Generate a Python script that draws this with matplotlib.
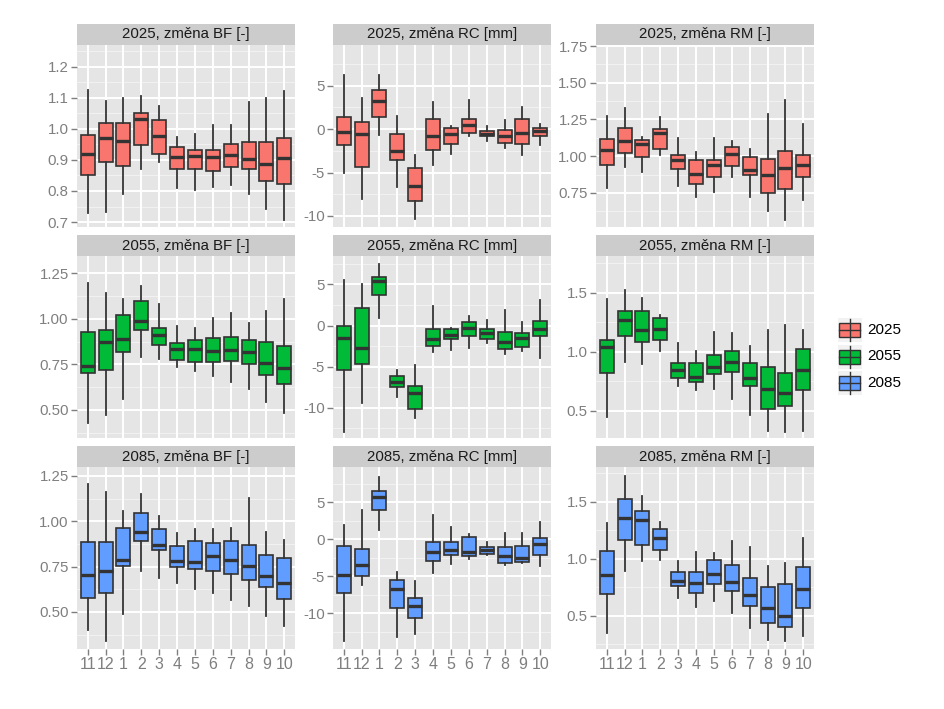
import matplotlib
matplotlib.use("Agg")
import matplotlib.pyplot as plt
from matplotlib.patches import Rectangle
import numpy as np

plt.rcParams['font.family'] = ['Liberation Sans', 'DejaVu Sans']

months = ["11", "12", "1", "2", "3", "4", "5", "6", "7", "8", "9", "10"]
years = ["2025", "2055", "2085"]
fills = {"2025": "#F8766D", "2055": "#00BA38", "2085": "#619CFF"}

# each row per month: whisker low, Q1, median, Q3, whisker high
bf_2025 = [
    [0.730, 0.850, 0.920, 0.980, 1.125], [0.732, 0.892, 0.972, 1.020, 1.090],
    [0.790, 0.880, 0.961, 1.020, 1.100], [0.870, 0.947, 1.033, 1.052, 1.105],
    [0.893, 0.920, 0.976, 1.030, 1.075], [0.808, 0.870, 0.910, 0.940, 0.974],
    [0.804, 0.872, 0.912, 0.931, 0.982], [0.813, 0.865, 0.910, 0.931, 1.012],
    [0.818, 0.877, 0.917, 0.950, 1.012], [0.789, 0.871, 0.904, 0.958, 1.088],
    [0.743, 0.832, 0.888, 0.958, 1.100], [0.708, 0.821, 0.907, 0.972, 1.121],
]
rc_2025 = [
    [-5.00, -1.85, -0.38, 1.35, 6.20], [-8.00, -4.35, -0.50, 0.85, 3.54],
    [-0.69, 1.42, 3.27, 4.50, 6.23], [-6.65, -3.50, -2.54, -0.58, 1.50],
    [-10.40, -8.27, -6.54, -4.46, -3.00], [-4.15, -2.35, -0.77, 1.12, 3.08],
    [-2.88, -1.65, -0.50, 0.15, 0.35], [-0.77, -0.42, 0.54, 1.12, 3.35],
    [-1.38, -0.80, -0.54, -0.19, 0.35], [-2.15, -1.58, -0.80, -0.04, 1.04],
    [-2.92, -1.73, -0.42, 1.15, 2.58], [-1.77, -0.81, -0.23, 0.15, 0.65],
]
rm_2025 = [
    [0.784, 0.939, 1.041, 1.120, 1.273], [0.927, 1.023, 1.102, 1.189, 1.330],
    [0.893, 0.995, 1.082, 1.109, 1.132], [1.007, 1.052, 1.155, 1.182, 1.264],
    [0.798, 0.916, 0.973, 1.007, 1.127], [0.723, 0.814, 0.882, 0.977, 1.030],
    [0.757, 0.859, 0.939, 0.977, 1.127], [0.859, 0.932, 1.018, 1.064, 1.105],
    [0.723, 0.870, 0.905, 0.995, 1.052], [0.625, 0.752, 0.875, 0.984, 1.290],
    [0.568, 0.780, 0.920, 1.034, 1.382], [0.700, 0.859, 0.939, 1.011, 1.216],
]
bf_2055 = [
    [0.427, 0.701, 0.740, 0.928, 1.200], [0.473, 0.720, 0.872, 0.937, 1.140],
    [0.560, 0.817, 0.891, 1.020, 1.112], [0.790, 0.937, 0.988, 1.099, 1.180],
    [0.780, 0.858, 0.913, 0.952, 1.084], [0.734, 0.777, 0.836, 0.869, 0.959],
    [0.712, 0.766, 0.836, 0.882, 0.950], [0.688, 0.766, 0.826, 0.896, 1.007],
    [0.651, 0.771, 0.832, 0.900, 1.035], [0.615, 0.753, 0.821, 0.885, 0.979],
    [0.546, 0.692, 0.758, 0.876, 1.042], [0.486, 0.642, 0.729, 0.849, 1.112],
]
rc_2055 = [
    [-13.00, -5.42, -1.54, -0.11, 5.60], [-9.38, -4.69, -2.76, 2.18, 5.00],
    [0.95, 3.77, 5.41, 5.94, 7.45], [-8.65, -7.46, -6.85, -6.12, -5.42],
    [-11.30, -10.20, -8.24, -7.42, -4.77], [-3.25, -2.52, -1.62, -0.39, 2.34],
    [-2.97, -1.70, -1.13, -0.39, -0.31], [-2.72, -1.29, -0.27, 0.42, 1.12],
    [-2.11, -1.62, -0.93, -0.39, 0.71], [-3.46, -2.85, -1.95, -0.80, 1.85],
    [-3.05, -2.64, -1.50, -0.93, 0.42], [-3.99, -1.33, -0.48, 0.55, 3.16],
]
rm_2055 = [
    [0.449, 0.820, 1.044, 1.103, 1.443], [0.911, 1.132, 1.265, 1.341, 1.520],
    [0.897, 1.081, 1.180, 1.341, 1.455], [1.010, 1.103, 1.194, 1.285, 1.313],
    [0.712, 0.778, 0.848, 0.902, 1.072], [0.678, 0.741, 0.789, 0.902, 1.010],
    [0.684, 0.812, 0.868, 0.976, 1.166], [0.600, 0.826, 0.916, 1.004, 1.157],
    [0.466, 0.707, 0.778, 0.902, 1.047], [0.330, 0.514, 0.684, 0.874, 1.180],
    [0.320, 0.543, 0.647, 0.820, 1.228], [0.330, 0.676, 0.846, 1.024, 1.180],
]
bf_2085 = [
    [0.400, 0.578, 0.703, 0.885, 1.208], [0.341, 0.602, 0.724, 0.885, 1.162],
    [0.487, 0.752, 0.788, 0.965, 1.057], [0.724, 0.892, 0.940, 1.047, 1.148],
    [0.688, 0.839, 0.867, 0.956, 1.029], [0.657, 0.746, 0.783, 0.861, 0.938],
    [0.624, 0.739, 0.776, 0.892, 0.956], [0.602, 0.724, 0.807, 0.880, 0.956],
    [0.566, 0.710, 0.785, 0.889, 0.962], [0.533, 0.679, 0.752, 0.870, 1.130],
    [0.478, 0.639, 0.697, 0.812, 0.943], [0.423, 0.569, 0.661, 0.797, 0.898],
]
rc_2085 = [
    [-13.70, -7.22, -4.76, -0.96, 1.95], [-6.20, -4.99, -3.51, -1.27, 3.97],
    [1.28, 3.97, 5.76, 6.52, 8.45], [-13.27, -9.24, -6.78, -5.52, -4.40],
    [-12.82, -10.58, -9.02, -7.90, -5.66], [-4.54, -2.88, -1.76, -0.42, 3.30],
    [-3.28, -2.17, -1.49, -0.37, 1.73], [-2.66, -2.30, -1.76, 0.30, 0.70],
    [-2.08, -1.94, -1.49, -1.09, -0.42], [-3.42, -3.20, -2.30, -1.09, 0.92],
    [-3.20, -3.11, -2.52, -0.96, 0.92], [-3.55, -2.17, -0.64, 0.16, 2.40],
]
rm_2085 = [
    [0.349, 0.694, 0.854, 1.071, 1.317], [0.891, 1.167, 1.355, 1.520, 1.723],
    [0.978, 1.123, 1.341, 1.419, 1.549], [0.993, 1.074, 1.181, 1.259, 1.326],
    [0.659, 0.761, 0.804, 0.886, 0.978], [0.578, 0.703, 0.790, 0.886, 1.060],
    [0.630, 0.781, 0.871, 0.993, 1.051], [0.529, 0.717, 0.796, 0.949, 1.152],
    [0.393, 0.587, 0.680, 0.833, 1.103], [0.291, 0.436, 0.572, 0.755, 0.935],
    [0.283, 0.404, 0.500, 0.781, 0.964], [0.326, 0.567, 0.732, 0.929, 1.181],
]

variables = ["BF [-]", "RC [mm]", "RM [-]"]
data = {
    ("2025", 0): bf_2025, ("2025", 1): rc_2025, ("2025", 2): rm_2025,
    ("2055", 0): bf_2055, ("2055", 1): rc_2055, ("2055", 2): rm_2055,
    ("2085", 0): bf_2085, ("2085", 1): rc_2085, ("2085", 2): rm_2085,
}
# y axis per panel: limits, ticks, label format
yaxes = {
    ("2025", 0): ((0.684, 1.27), np.arange(0.7, 1.21, 0.1), "{:.1f}"),
    ("2025", 1): ((-11.27, 9.7), [-10, -5, 0, 5], "{:.0f}"),
    ("2025", 2): ((0.518, 1.757), [0.75, 1.0, 1.25, 1.5, 1.75], "{:.2f}"),
    ("2055", 0): ((0.346, 1.346), [0.5, 0.75, 1.0, 1.25], "{:.2f}"),
    ("2055", 1): ((-13.7, 8.47), [-10, -5, 0, 5], "{:.0f}"),
    ("2055", 2): ((0.27, 1.81), [0.5, 1.0, 1.5], "{:.1f}"),
    ("2085", 0): ((0.296, 1.299), [0.5, 0.75, 1.0, 1.25], "{:.2f}"),
    ("2085", 1): ((-14.84, 9.79), [-10, -5, 0, 5], "{:.0f}"),
    ("2085", 2): ((0.21, 1.804), [0.5, 1.0, 1.5], "{:.1f}"),
}

W, H = 945, 709
fig = plt.figure(figsize=(W / 100, H / 100), dpi=100)
fig.patch.set_facecolor("white")

col_left = [77, 333, 596]
row_top = [45, 256, 467]
pw, ph, strip_h = 218, 182, 21
edge = "#333333"
x = np.arange(1, len(months) + 1)

for r, year in enumerate(years):
    for c, var in enumerate(variables):
        ax = fig.add_axes([col_left[c] / W, 1 - (row_top[r] + ph) / H, pw / W, ph / H])
        ax.set_facecolor("#E5E5E5")
        for s in ax.spines.values():
            s.set_visible(False)
        (lo, hi), ticks, fmt = yaxes[(year, c)]
        ticks = list(ticks)
        step = ticks[1] - ticks[0]
        minors = np.arange(ticks[0] - step / 2, hi, step)
        for m in minors:
            if lo < m < hi:
                ax.axhline(m, color="#F2F2F2", lw=0.7, zorder=0)
        for t in ticks:
            ax.axhline(t, color="white", lw=1.4, zorder=0)
        for xi in x:
            ax.axvline(xi, color="white", lw=1.4, zorder=0)

        rows = data[(year, c)]
        stats = [dict(whislo=v[0], q1=v[1], med=v[2], q3=v[3], whishi=v[4], fliers=[])
                 for v in rows]
        ax.bxp(stats, positions=x, widths=0.78, patch_artist=True, showcaps=False,
               boxprops=dict(facecolor=fills[year], edgecolor=edge, linewidth=1.2),
               medianprops=dict(color=edge, linewidth=2.4),
               whiskerprops=dict(color=edge, linewidth=1.3), zorder=2)

        ax.set_xlim(0.4, 12.6)
        ax.set_ylim(lo, hi)
        ax.set_yticks(ticks)
        ax.set_yticklabels([fmt.format(t) for t in ticks])
        ax.tick_params(axis="y", length=4, width=1, color="#7F7F7F",
                       labelcolor="#7F7F7F", labelsize=10.8, pad=2)
        ax.set_xticks(x)
        if r == len(years) - 1:
            ax.set_xticklabels(months)
            ax.tick_params(axis="x", length=4, width=1, color="#7F7F7F",
                           labelcolor="#7F7F7F", labelsize=11.5, pad=2)
        else:
            ax.set_xticklabels([])
            ax.tick_params(axis="x", length=0)

        sh = strip_h / ph
        ax.add_patch(Rectangle((0, 1), 1, sh, transform=ax.transAxes,
                               facecolor="#CCCCCC", edgecolor="none", clip_on=False))
        ax.text(0.5, 1 + sh / 2, f"{year}, změna {var}", transform=ax.transAxes,
                ha="center", va="center", fontsize=10.8, color="#1A1A1A")

# legend drawn in pixel coordinates
lax = fig.add_axes([830 / W, 1 - 400 / H, 115 / W, 90 / H])
lax.set_xlim(830, 945)
lax.set_ylim(400, 310)
lax.axis("off")
for i, year in enumerate(years):
    cy = 330 + i * 26.5
    lax.add_patch(Rectangle((838, cy - 12), 24, 24, facecolor="#F2F2F2", edgecolor="none"))
    lax.plot([850, 850], [cy - 11, cy + 11], color=edge, lw=1.0)
    lax.add_patch(Rectangle((839.5, cy - 7), 21, 14, facecolor=fills[year],
                            edgecolor=edge, lw=1.0))
    lax.plot([839.5, 860.5], [cy, cy], color=edge, lw=1.0)
    lax.text(867, cy, year, ha="left", va="center", fontsize=11, color="black")

fig.savefig("out.png", dpi=100)
